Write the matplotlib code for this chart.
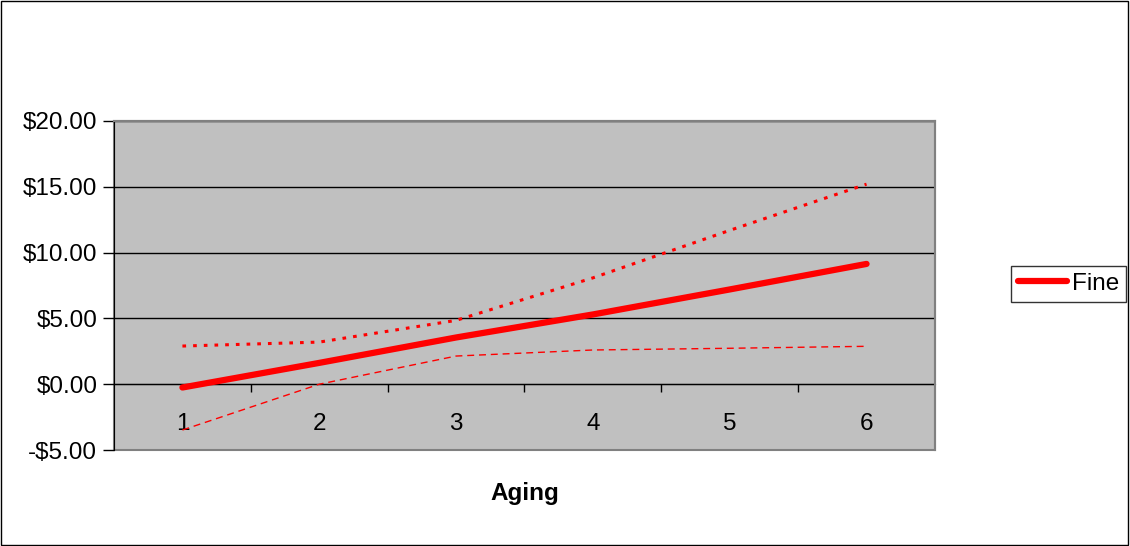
import matplotlib.pyplot as plt
from matplotlib.patches import Rectangle

plt.rcParams['font.family'] = ['Liberation Sans', 'DejaVu Sans']

# Значения по категориям возраста
aging = [1, 2, 3, 4, 5, 6]
fine = [-0.25, 1.62, 3.55, 5.3, 7.2, 9.14]
fine_upper = [2.9, 3.2, 4.85, 8.08, 11.69, 15.2]
fine_lower = [-3.48, 0.0, 2.14, 2.6, 2.73, 2.88]
y_ticks = [-5, 0, 5, 10, 15, 20]
y_labels = ['-$5.00', '$0.00', '$5.00', '$10.00', '$15.00', '$20.00']

fs = 17.5

fig = plt.figure(figsize=(11.3, 5.46), dpi=100)
ax = fig.add_axes([0.1009, 0.1758, 0.7265, 0.6026])
ax.set_facecolor('#C0C0C0')

# Сетка
for v in y_ticks[1:]:
    ax.axhline(v, color='black', linewidth=1, zorder=1)

ax.plot(aging, fine_upper, color='red', linestyle=(0, (1.2, 2.3)), linewidth=2.2, zorder=3)
ax.plot(aging, fine_lower, color='red', linestyle=(0, (5, 3.5)), linewidth=1, zorder=3)
ax.plot(aging, fine, color='red', linewidth=4.5, solid_capstyle='round', zorder=4, label='Fine')

ax.set_xlim(0.5, 6.5)
ax.set_ylim(-5, 20)
ax.set_yticks(y_ticks)
ax.set_yticklabels(y_labels, fontsize=fs)
ax.tick_params(axis='y', direction='out', length=8, width=1, pad=4)

# Ось категорий проходит по нулю
ax.spines['bottom'].set_position(('data', 0))
ax.spines['bottom'].set_color('black')
ax.spines['bottom'].set_zorder(2)
ax.set_xticks([1.5, 2.5, 3.5, 4.5, 5.5])
ax.set_xticklabels([])
ax.tick_params(axis='x', which='major', direction='out', length=6, width=1)
ax.set_xticks(aging, minor=True)
ax.set_xticklabels([str(a) for a in aging], minor=True, fontsize=fs)
ax.tick_params(axis='x', which='minor', length=0, pad=21)

ax.spines['left'].set_color('black')
for s in ['top', 'right']:
    ax.spines[s].set_color('#808080')
    ax.spines[s].set_linewidth(1.5)

# Нижняя граница области построения
ax.add_patch(Rectangle((0.5, -5), 6, 25, fill=False, edgecolor='#808080',
                       linewidth=1.5, zorder=0.5, clip_on=False))

fig.text(0.4646, 0.097, 'Aging', fontsize=fs, fontweight='bold', ha='center', va='center')

leg = fig.legend(loc='center', bbox_to_anchor=(0.9456, 0.4799), fontsize=fs,
                 frameon=True, fancybox=False, edgecolor='black', handlelength=2.0,
                 handletextpad=0.2, borderpad=0.3, borderaxespad=0)
leg.get_frame().set_linewidth(1)

# Рамка всего рисунка
fig.add_artist(Rectangle((0.0005, 0.001), 0.998, 0.997, transform=fig.transFigure,
                         fill=False, edgecolor='black', linewidth=1))

plt.savefig('out.png', dpi=100)
